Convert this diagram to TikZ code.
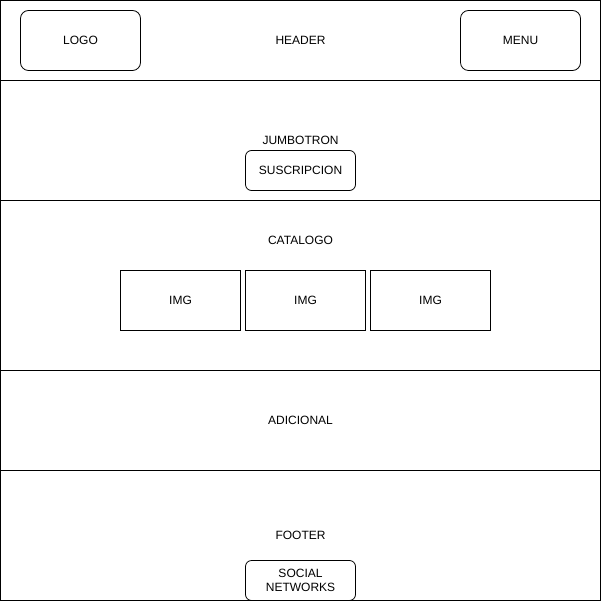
\documentclass[tikz,border=0pt]{standalone}
\usepackage{fontspec}
\setmainfont{Liberation Sans}
\usepackage{tikz}

\tikzset{
	section/.style={draw,line width=0.8pt,minimum width=600pt,inner sep=0pt,outer sep=0pt},
	rbox/.style={draw,line width=0.8pt,rounded corners=8pt,inner sep=0pt,align=center},
	imgbox/.style={draw,line width=0.8pt,minimum width=120pt,minimum height=60pt,inner sep=0pt},
	lbl/.style={inner sep=0pt,font=\fontsize{12}{14}\selectfont}
}

\begin{document}
\begin{tikzpicture}[x=1pt,y=-1pt,font=\fontsize{12}{14}\selectfont]
		\useasboundingbox (0,0) rectangle (601,601);
		%
		\node[section,minimum height=80pt] (header) at (300.5,40.5) {};
		\node[section,minimum height=120pt] (jumbo) at (300.5,140.5) {};
		\node[section,minimum height=170pt] (catalog) at (300.5,285.5) {};
		\node[section,minimum height=100pt] (extra) at (300.5,420.5) {};
		\node[section,minimum height=130pt] (footer) at (300.5,535.5) {};
		%
		\node[rbox,minimum width=120pt,minimum height=60pt] (logo) at (80.5,40.5) {LOGO};
		\node[lbl] (headtxt) at (300.5,40.5) {HEADER};
		\node[rbox,minimum width=120pt,minimum height=60pt] (menu) at (520.5,40.5) {MENU};
		%
		\node[lbl] (jumbotxt) at (300.5,140.5) {JUMBOTRON};
		\node[rbox,minimum width=110pt,minimum height=40pt,rounded corners=6pt] (subs) at (300.5,170.5) {SUSCRIPCION};
		%
		\node[lbl] (cattxt) at (300.5,240.5) {CATALOGO};
		\node[imgbox] (img1) at (180.5,300.5) {IMG};
		\node[imgbox] (img2) at (305.5,300.5) {IMG};
		\node[imgbox] (img3) at (430.5,300.5) {IMG};
		%
		\node[lbl] (extratxt) at (300.5,420.5) {ADICIONAL};
		%
		\node[lbl] (foottxt) at (300.5,535.5) {FOOTER};
		\node[rbox,minimum width=110pt,minimum height=40pt,rounded corners=6pt] (social) at (300.5,580.5) {SOCIAL\\[0.5pt]NETWORKS};
		\end{tikzpicture}
\end{document}
